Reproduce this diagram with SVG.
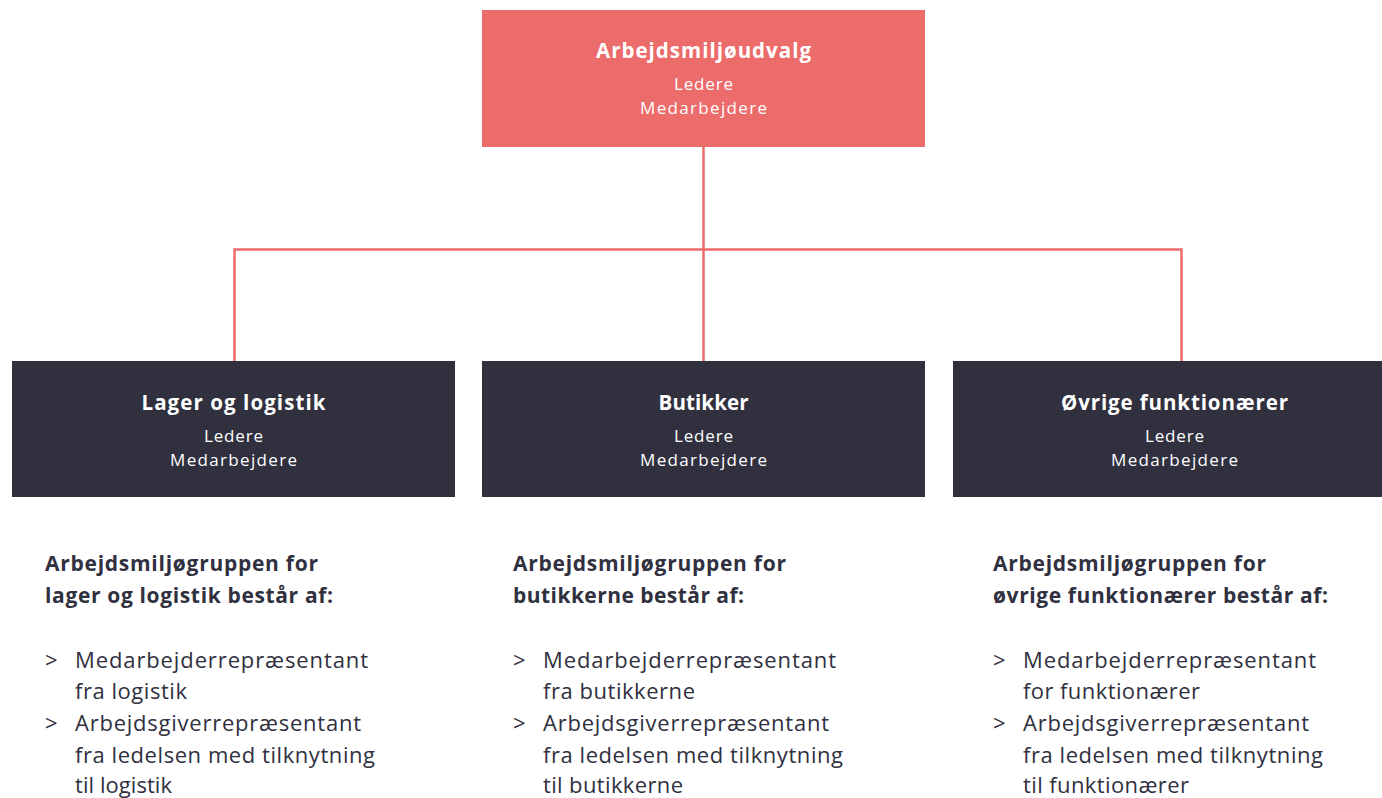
<svg xmlns="http://www.w3.org/2000/svg" width="1382" height="798" viewBox="0 0 1382 798">
<style>
text{font-family:"Open Sans","Liberation Sans",sans-serif}
.t{text-anchor:middle;fill:#fff}
.tb{font-size:20.5px;font-weight:700}
.ts{font-size:17px}
.h{font-size:21px;font-weight:700;fill:#30303f}
.l{font-size:22px;fill:#30303f}
.c{fill:none;stroke:#ee6b6b;stroke-width:2.5}
</style>
<rect width="1382" height="798" fill="#fff"/>
<g id="connectors">
<path class="c" d="M703.5 147V361M234.5 361V249.5H1181.5V361"/>
</g>
<g id="n0">
<rect x="482" y="10" width="443" height="137" fill="#ec6b6b"/>
<text class="t tb" x="703.5" y="58" textLength="215" lengthAdjust="spacing">Arbejdsmiljøudvalg</text>
<text class="t ts" x="703.5" y="90" textLength="59" lengthAdjust="spacing">Ledere</text>
<text class="t ts" x="703.5" y="114" textLength="127" lengthAdjust="spacing">Medarbejdere</text>
</g>
<g id="n1">
<rect x="12" y="361" width="443" height="136" fill="#30303f"/>
<text class="t tb" x="233.5" y="410" textLength="184" lengthAdjust="spacing">Lager og logistik</text>
<text class="t ts" x="233.5" y="442" textLength="59" lengthAdjust="spacing">Ledere</text>
<text class="t ts" x="233.5" y="466" textLength="127" lengthAdjust="spacing">Medarbejdere</text>
</g>
<g id="n2">
<rect x="482" y="361" width="443" height="136" fill="#30303f"/>
<text class="t tb" x="703.5" y="410" textLength="90" lengthAdjust="spacing">Butikker</text>
<text class="t ts" x="703.5" y="442" textLength="59" lengthAdjust="spacing">Ledere</text>
<text class="t ts" x="703.5" y="466" textLength="127" lengthAdjust="spacing">Medarbejdere</text>
</g>
<g id="n3">
<rect x="953" y="361" width="443" height="136" fill="#30303f"/>
<text class="t tb" x="1174.5" y="410" textLength="227" lengthAdjust="spacing">Øvrige funktionærer</text>
<text class="t ts" x="1174.5" y="442" textLength="59" lengthAdjust="spacing">Ledere</text>
<text class="t ts" x="1174.5" y="466" textLength="127" lengthAdjust="spacing">Medarbejdere</text>
</g>
<g id="list1">
<text class="h" x="45" y="571" textLength="273" lengthAdjust="spacing">Arbejdsmiljøgruppen for</text>
<text class="h" x="45" y="603" textLength="288" lengthAdjust="spacing">lager og logistik består af:</text>
<text class="l" x="45" y="668">&gt;</text>
<text class="l" x="75" y="668" textLength="293" lengthAdjust="spacing">Medarbejderrepræsentant</text>
<text class="l" x="75" y="699" textLength="112" lengthAdjust="spacing">fra logistik</text>
<text class="l" x="45" y="731">&gt;</text>
<text class="l" x="75" y="731" textLength="286" lengthAdjust="spacing">Arbejdsgiverrepræsentant</text>
<text class="l" x="75" y="763" textLength="300" lengthAdjust="spacing">fra ledelsen med tilknytning</text>
<text class="l" x="75" y="793" textLength="97" lengthAdjust="spacing">til logistik</text>
</g>
<g id="list2">
<text class="h" x="513" y="571" textLength="273" lengthAdjust="spacing">Arbejdsmiljøgruppen for</text>
<text class="h" x="513" y="603" textLength="231" lengthAdjust="spacing">butikkerne består af:</text>
<text class="l" x="513" y="668">&gt;</text>
<text class="l" x="543" y="668" textLength="293" lengthAdjust="spacing">Medarbejderrepræsentant</text>
<text class="l" x="543" y="699" textLength="152" lengthAdjust="spacing">fra butikkerne</text>
<text class="l" x="513" y="731">&gt;</text>
<text class="l" x="543" y="731" textLength="286" lengthAdjust="spacing">Arbejdsgiverrepræsentant</text>
<text class="l" x="543" y="763" textLength="300" lengthAdjust="spacing">fra ledelsen med tilknytning</text>
<text class="l" x="543" y="793" textLength="140" lengthAdjust="spacing">til butikkerne</text>
</g>
<g id="list3">
<text class="h" x="993" y="571" textLength="273" lengthAdjust="spacing">Arbejdsmiljøgruppen for</text>
<text class="h" x="993" y="603" textLength="335" lengthAdjust="spacing">øvrige funktionærer består af:</text>
<text class="l" x="993" y="668">&gt;</text>
<text class="l" x="1023" y="668" textLength="293" lengthAdjust="spacing">Medarbejderrepræsentant</text>
<text class="l" x="1023" y="699" textLength="177" lengthAdjust="spacing">for funktionærer</text>
<text class="l" x="993" y="731">&gt;</text>
<text class="l" x="1023" y="731" textLength="286" lengthAdjust="spacing">Arbejdsgiverrepræsentant</text>
<text class="l" x="1023" y="763" textLength="300" lengthAdjust="spacing">fra ledelsen med tilknytning</text>
<text class="l" x="1023" y="793" textLength="166" lengthAdjust="spacing">til funktionærer</text>
</g>
</svg>
